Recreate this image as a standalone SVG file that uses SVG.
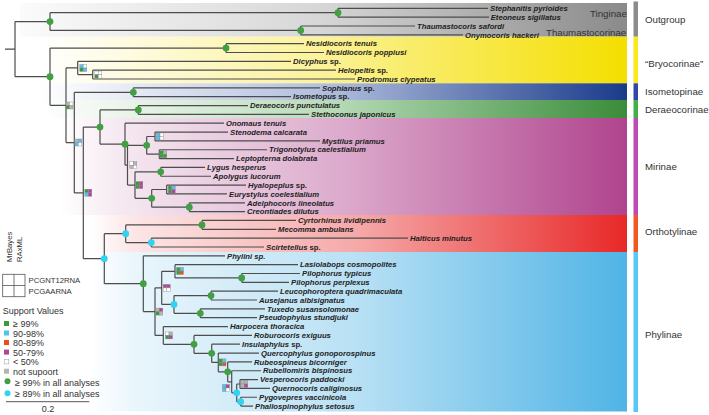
<svg xmlns="http://www.w3.org/2000/svg" width="709" height="415" viewBox="0 0 709 415">
<defs>
<linearGradient id="gOut" x1="0" x2="1" y1="0" y2="0"><stop offset="0" stop-color="#fbfbfb"/><stop offset="0.5" stop-color="#d6d6d6"/><stop offset="1" stop-color="#8a8a8a"/></linearGradient>
<linearGradient id="gBry" x1="0" x2="1" y1="0" y2="0"><stop offset="0" stop-color="#ffffff"/><stop offset="0.45" stop-color="#fcf3a0"/><stop offset="1" stop-color="#f4df00"/></linearGradient>
<linearGradient id="gIso" x1="0" x2="1" y1="0" y2="0"><stop offset="0" stop-color="#ffffff"/><stop offset="0.5" stop-color="#aebcdc"/><stop offset="1" stop-color="#1a3a8a"/></linearGradient>
<linearGradient id="gDer" x1="0" x2="1" y1="0" y2="0"><stop offset="0" stop-color="#ffffff"/><stop offset="0.5" stop-color="#b8dab8"/><stop offset="1" stop-color="#3a8c3a"/></linearGradient>
<linearGradient id="gMir" x1="0" x2="1" y1="0" y2="0"><stop offset="0" stop-color="#ffffff"/><stop offset="0.1" stop-color="#f6eaf2"/><stop offset="0.5" stop-color="#dcaacc"/><stop offset="1" stop-color="#b0448e"/></linearGradient>
<linearGradient id="gOrt" x1="0" x2="1" y1="0" y2="0"><stop offset="0" stop-color="#ffffff"/><stop offset="0.08" stop-color="#fce6e6"/><stop offset="0.5" stop-color="#f6a8a8"/><stop offset="1" stop-color="#e82828"/></linearGradient>
<linearGradient id="gPhy" x1="0" x2="1" y1="0" y2="0"><stop offset="0" stop-color="#ffffff"/><stop offset="0.08" stop-color="#eaf6fc"/><stop offset="0.5" stop-color="#b8e0f4"/><stop offset="1" stop-color="#50b4e6"/></linearGradient>
</defs>
<style>
.tip{font-family:"Liberation Sans",Arial,sans-serif;font-size:7.7px;font-weight:bold;font-style:italic;fill:#1e1e1e}
.sub{font-family:"Liberation Sans",Arial,sans-serif;font-size:9.7px;fill:#333}
.lg{font-family:"Liberation Sans",Arial,sans-serif;font-size:9px;fill:#333}
.sm{font-family:"Liberation Sans",Arial,sans-serif;font-size:7.7px;fill:#333}
.br{stroke:#4d4d4d;stroke-width:1.2;fill:none}
.gd{fill:#41a043}
.cd{fill:#33d3f0}
.sq rect{stroke:#8a8a8a;stroke-width:0.4}
.g{fill:#3a9b3c}.b{fill:#4fc3f0}.r{fill:#e8501c}.m{fill:#b0449c}.w{fill:#ffffff}.n{fill:#b4b4b4}
</style>
<rect width="709" height="415" fill="#ffffff"/>
<g id="bands">
<rect x="20" y="3" width="607" height="33.7" fill="url(#gOut)"/>
<rect x="40" y="36.7" width="587" height="46.6" fill="url(#gBry)"/>
<rect x="40" y="83.3" width="587" height="16.7" fill="url(#gIso)"/>
<rect x="40" y="100" width="587" height="18" fill="url(#gDer)"/>
<rect x="60" y="118" width="567" height="97" fill="url(#gMir)"/>
<rect x="90" y="215" width="537" height="37" fill="url(#gOrt)"/>
<rect x="90" y="252" width="537" height="159.5" fill="url(#gPhy)"/>
</g>
<g id="bars">
<rect x="633.5" y="1.5" width="4.5" height="35.2" fill="#8c8c8c"/>
<rect x="633.5" y="36.7" width="4.5" height="46.6" fill="#f9e81a"/>
<rect x="633.5" y="83.3" width="4.5" height="16.7" fill="#3346a8"/>
<rect x="633.5" y="100" width="4.5" height="18" fill="#42b04a"/>
<rect x="633.5" y="118" width="4.5" height="97" fill="#c04ab4"/>
<rect x="633.5" y="215" width="4.5" height="37" fill="#f05a22"/>
<rect x="633.5" y="252" width="4.5" height="160" fill="#55c8f5"/>
</g>
<g id="group-labels">
<text class="sub" x="590" y="16.5" fill="#444">Tinginae</text>
<text class="sub" x="546" y="35.5" font-size="9.5px" fill="#444">Thaumastocorinae</text>
<text class="sub" x="645" y="22.7">Outgroup</text>
<text class="sub" x="645" y="66.7">“Bryocorinae”</text>
<text class="sub" x="645" y="95">Isometopinae</text>
<text class="sub" x="645" y="113.4">Deraeocorinae</text>
<text class="sub" x="645" y="170">Mirinae</text>
<text class="sub" x="645" y="235">Orthotylinae</text>
<text class="sub" x="645" y="338.4">Phylinae</text>
</g>
<g id="connectors" class="br">
<path d="M5,49.1H15M15,21.56V76.7M15,21.56H50M50,12.72V30.4M50,12.72H338M338,8.3V17.14M338,8.3H488M338,17.14H489M50,30.4H300.7M300.7,25.98V34.82M300.7,25.98H415M300.7,34.82H463"/>
<path d="M15,76.7H50M50,48.08V105.3M50,48.08H226M226,43.66V52.5M226,43.66H304M226,52.5H324M50,105.3H66M66,67.97V142.6M66,67.97H77.7M77.7,61.34V74.6M77.7,61.34H291M77.7,74.6H92.7M92.7,70.18V79.02M92.7,70.18H336M92.7,79.02H355"/>
<path d="M66,142.6H74.3M74.3,92.28V192.9M74.3,92.28H133.3M133.3,87.86V96.7M133.3,87.86H320M133.3,96.7H291M74.3,192.9H83.3M83.3,127.08V258.7M83.3,127.08H100M100,109.96V144.2M100,109.96H138.3M138.3,105.54V114.38M138.3,105.54H248M138.3,114.38H309"/>
<path d="M100,144.2H125M125,123.22V165.21M125,123.22H224M125,165.21H127.5M127.5,145.32V185.1M127.5,145.32H146.7M146.7,136.48V154.16M146.7,136.48H155M155,132.06V140.9M155,132.06H228M155,140.9H320M146.7,154.16H159.3M159.3,149.74V158.58M159.3,149.74H267M159.3,158.58H234"/>
<path d="M127.5,185.1H135M135,171.84V198.36M135,171.84H160.7M160.7,167.42V176.26M160.7,167.42H205M160.7,176.26H211M135,198.36H151.7M151.7,189.52V207.2M151.7,189.52H166.7M166.7,185.1V193.94M166.7,185.1H246M166.7,193.94H227M151.7,207.2H189.3M189.3,202.78V211.62M189.3,202.78H245M189.3,211.62H245"/>
<path d="M83.3,258.7H104.3M104.3,233.72V283.7M104.3,233.72H125.7M125.7,224.88V242.56M125.7,224.88H202M202,220.46V229.3M202,220.46H296M202,229.3H276M125.7,242.56H151.3M151.3,238.14V246.98M151.3,238.14H408M151.3,246.98H264"/>
<path d="M104.3,283.7H143.3M143.3,255.82V311.6M143.3,255.82H225M143.3,311.6H155M155,287.87V335.4M155,287.87H161.7M161.7,271.29V304.44M161.7,271.29H175M175,264.66V277.92M175,264.66H298M175,277.92H241.7M241.7,273.5V282.34M241.7,273.5H300M241.7,282.34H289M161.7,304.44H174M174,295.6V313.28M174,295.6H211M211,291.18V300.02M211,291.18H278M211,300.02H257M174,313.28H200.3M200.3,308.86V317.7M200.3,308.86H265M200.3,317.7H257"/>
<path d="M155,335.4H163.3M163.3,326.54V344.3M163.3,326.54H228M163.3,344.3H194M194,335.38V353.3M194,335.38H252M194,353.3H211.7M211.7,344.22V362.45M211.7,344.22H240M211.7,362.45H218.3M218.3,353.06V371.85M218.3,353.06H259M218.3,371.85H227.7M227.7,361.9V381.8M227.7,361.9H252M227.7,381.8H231.7M231.7,370.74V392.8M231.7,370.74H261M231.7,392.8H236.7M236.7,384V401.68M236.7,384H240M240,379.58V388.42M240,379.58H258M240,388.42H270M236.7,401.68H240.7M240.7,397.26V406.1M240.7,397.26H257M240.7,406.1H253"/>
</g>
<g id="node-dots">
<circle class="gd" cx="50" cy="21.56" r="3.4"/>
<circle class="gd" cx="338" cy="12.72" r="3.4"/>
<circle class="gd" cx="300.7" cy="30.4" r="3.4"/>
<circle class="gd" cx="50" cy="76.7" r="3.4"/>
<circle class="gd" cx="226" cy="48.08" r="3.4"/>
<circle class="gd" cx="133.3" cy="92.28" r="3.4"/>
<circle class="gd" cx="100" cy="127.08" r="3.4"/>
<circle class="gd" cx="138.3" cy="109.96" r="3.4"/>
<circle class="gd" cx="125" cy="144.2" r="3.4"/>
<circle class="gd" cx="146.7" cy="145.32" r="3.4"/>
<circle class="gd" cx="160.7" cy="171.84" r="3.4"/>
<circle class="gd" cx="151.7" cy="198.36" r="3.4"/>
<circle class="gd" cx="189.3" cy="207.2" r="3.4"/>
<circle class="gd" cx="202" cy="224.88" r="3.4"/>
<circle class="gd" cx="143.3" cy="283.7" r="3.4"/>
<circle class="gd" cx="241.7" cy="277.92" r="3.4"/>
<circle class="gd" cx="211" cy="295.6" r="3.4"/>
<circle class="gd" cx="200.3" cy="313.28" r="3.4"/>
<circle class="gd" cx="194" cy="344.3" r="3.4"/>
<circle class="gd" cx="211.7" cy="353.3" r="3.4"/>
<circle class="gd" cx="227.7" cy="371.85" r="3.4"/>
<circle class="cd" cx="125.7" cy="233.72" r="3.4"/>
<circle class="cd" cx="151.3" cy="242.56" r="3.4"/>
<circle class="cd" cx="104.3" cy="258.7" r="3.4"/>
<circle class="cd" cx="174" cy="304.44" r="3.4"/>
<circle class="cd" cx="236.7" cy="392.8" r="3.4"/>
<circle class="cd" cx="240.7" cy="401.68" r="3.4"/>
</g>
<g id="support-squares" class="sq">
<g id="sq-C"><rect class="b" x="79.8" y="64.5" width="3.5" height="3.5"/><rect class="w" x="83.3" y="64.5" width="3.5" height="3.5"/><rect class="g" x="79.8" y="68" width="3.5" height="3.5"/><rect class="b" x="83.3" y="68" width="3.5" height="3.5"/></g>
<g id="sq-D"><rect class="w" x="94.8" y="71.1" width="3.5" height="3.5"/><rect class="w" x="98.3" y="71.1" width="3.5" height="3.5"/><rect class="g" x="94.8" y="74.6" width="3.5" height="3.5"/><rect class="w" x="98.3" y="74.6" width="3.5" height="3.5"/></g>
<g id="sq-B"><rect class="n" x="66" y="102" width="3.5" height="3.5"/><rect class="w" x="69.5" y="102" width="3.5" height="3.5"/><rect class="g" x="66" y="105.5" width="3.5" height="3.5"/><rect class="n" x="69.5" y="105.5" width="3.5" height="3.5"/></g>
<g id="sq-E"><rect class="n" x="74.8" y="139" width="3.5" height="3.5"/><rect class="b" x="78.3" y="139" width="3.5" height="3.5"/><rect class="b" x="74.8" y="142.5" width="3.5" height="3.5"/><rect class="w" x="78.3" y="142.5" width="3.5" height="3.5"/></g>
<g id="sq-F"><rect class="g" x="84.8" y="189.2" width="3.5" height="3.5"/><rect class="m" x="88.3" y="189.2" width="3.5" height="3.5"/><rect class="b" x="84.8" y="192.7" width="3.5" height="3.5"/><rect class="m" x="88.3" y="192.7" width="3.5" height="3.5"/></g>
<g id="sq-J"><rect class="w" x="129.8" y="161.7" width="3.5" height="3.5"/><rect class="n" x="133.3" y="161.7" width="3.5" height="3.5"/><rect class="n" x="129.8" y="165.2" width="3.5" height="3.5"/><rect class="w" x="133.3" y="165.2" width="3.5" height="3.5"/></g>
<g id="sq-M"><rect class="b" x="156.5" y="133" width="3.5" height="3.5"/><rect class="w" x="160" y="133" width="3.5" height="3.5"/><rect class="b" x="156.5" y="136.5" width="3.5" height="3.5"/><rect class="w" x="160" y="136.5" width="3.5" height="3.5"/></g>
<g id="sq-N"><rect class="g" x="159.8" y="150.7" width="3.5" height="3.5"/><rect class="n" x="163.3" y="150.7" width="3.5" height="3.5"/><rect class="g" x="159.8" y="154.2" width="3.5" height="3.5"/><rect class="g" x="163.3" y="154.2" width="3.5" height="3.5"/></g>
<g id="sq-L"><rect class="g" x="135.8" y="181.6" width="3.5" height="3.5"/><rect class="m" x="139.3" y="181.6" width="3.5" height="3.5"/><rect class="g" x="135.8" y="185.1" width="3.5" height="3.5"/><rect class="m" x="139.3" y="185.1" width="3.5" height="3.5"/></g>
<g id="sq-Q"><rect class="g" x="168.2" y="186" width="3.5" height="3.5"/><rect class="b" x="171.7" y="186" width="3.5" height="3.5"/><rect class="g" x="168.2" y="189.5" width="3.5" height="3.5"/><rect class="m" x="171.7" y="189.5" width="3.5" height="3.5"/></g>
<g id="sq-X"><rect class="g" x="176.5" y="267.5" width="3.5" height="3.5"/><rect class="b" x="180" y="267.5" width="3.5" height="3.5"/><rect class="g" x="176.5" y="271" width="3.5" height="3.5"/><rect class="r" x="180" y="271" width="3.5" height="3.5"/></g>
<g id="sq-V"><rect class="m" x="163.2" y="284.4" width="3.5" height="3.5"/><rect class="m" x="166.7" y="284.4" width="3.5" height="3.5"/><rect class="w" x="163.2" y="287.9" width="3.5" height="3.5"/><rect class="w" x="166.7" y="287.9" width="3.5" height="3.5"/></g>
<g id="sq-U"><rect class="n" x="155.8" y="308.1" width="3.5" height="3.5"/><rect class="m" x="159.3" y="308.1" width="3.5" height="3.5"/><rect class="g" x="155.8" y="311.6" width="3.5" height="3.5"/><rect class="n" x="159.3" y="311.6" width="3.5" height="3.5"/></g>
<g id="sq-W"><rect class="w" x="165.5" y="331.9" width="3.5" height="3.5"/><rect class="n" x="169" y="331.9" width="3.5" height="3.5"/><rect class="g" x="165.5" y="335.4" width="3.5" height="3.5"/><rect class="m" x="169" y="335.4" width="3.5" height="3.5"/></g>
<g id="sq-BB"><rect class="g" x="219" y="358.9" width="3.5" height="3.5"/><rect class="b" x="222.5" y="358.9" width="3.5" height="3.5"/><rect class="g" x="219" y="362.4" width="3.5" height="3.5"/><rect class="r" x="222.5" y="362.4" width="3.5" height="3.5"/></g>
<g id="sq-FF"><rect class="n" x="240.8" y="380.5" width="3.5" height="3.5"/><rect class="n" x="244.3" y="380.5" width="3.5" height="3.5"/><rect class="n" x="240.8" y="384" width="3.5" height="3.5"/><rect class="m" x="244.3" y="384" width="3.5" height="3.5"/></g>
<g id="sq-DD"><rect class="b" x="222.5" y="384.5" width="3.5" height="3.5"/><rect class="m" x="226" y="384.5" width="3.5" height="3.5"/><rect class="b" x="222.5" y="388" width="3.5" height="3.5"/><rect class="w" x="226" y="388" width="3.5" height="3.5"/></g>
</g>
<g id="tips">
<g id="t1"><text class="tip" x="490" y="11">Stephanitis pyrioides</text></g>
<g id="t2"><text class="tip" x="490.7" y="19.8">Eteoneus sigillatus</text></g>
<g id="t3"><text class="tip" x="417" y="28.7">Thaumastocoris safordi</text></g>
<g id="t4"><text class="tip" x="465" y="37.5">Onymocoris hackeri</text></g>
<g id="t5"><text class="tip" x="306" y="46.4">Nesidiocoris tenuis</text></g>
<g id="t6"><text class="tip" x="326" y="55.2">Nesidiocoris poppiusi</text></g>
<g id="t7"><text class="tip" x="293" y="64"><tspan>Dicyphus</tspan><tspan font-style="normal"> sp.</tspan></text></g>
<g id="t8"><text class="tip" x="338" y="72.9"><tspan>Helopeltis</tspan><tspan font-style="normal"> sp.</tspan></text></g>
<g id="t9"><text class="tip" x="357" y="81.7">Prodromus clypeatus</text></g>
<g id="t10"><text class="tip" x="322" y="90.6"><tspan>Sophianus</tspan><tspan font-style="normal"> sp.</tspan></text></g>
<g id="t11"><text class="tip" x="293" y="99.4"><tspan>Isometopus</tspan><tspan font-style="normal"> sp.</tspan></text></g>
<g id="t12"><text class="tip" x="250" y="108.2">Deraeocoris punctulatus</text></g>
<g id="t13"><text class="tip" x="311" y="117.1">Stethoconus japonicus</text></g>
<g id="t14"><text class="tip" x="226" y="125.9">Onomaus tenuis</text></g>
<g id="t15"><text class="tip" x="230" y="134.8">Stenodema calcarata</text></g>
<g id="t16"><text class="tip" x="322" y="143.6">Mystilus priamus</text></g>
<g id="t17"><text class="tip" x="269" y="152.4">Trigonotylus caelestialium</text></g>
<g id="t18"><text class="tip" x="236" y="161.3">Leptopterna dolabrata</text></g>
<g id="t19"><text class="tip" x="207" y="170.1">Lygus hesperus</text></g>
<g id="t20"><text class="tip" x="213" y="179">Apolygus lucorum</text></g>
<g id="t21"><text class="tip" x="248" y="187.8"><tspan>Hyalopeplus</tspan><tspan font-style="normal"> sp.</tspan></text></g>
<g id="t22"><text class="tip" x="229" y="196.6">Eurystylus coelestialium</text></g>
<g id="t23"><text class="tip" x="247" y="205.5">Adelphocoris lineolatus</text></g>
<g id="t24"><text class="tip" x="247" y="214.3">Creontiades dilutus</text></g>
<g id="t25"><text class="tip" x="298" y="223.2">Cyrtorhinus lividipennis</text></g>
<g id="t26"><text class="tip" x="278" y="232">Mecomma ambulans</text></g>
<g id="t27"><text class="tip" x="410" y="240.8">Halticus minutus</text></g>
<g id="t28"><text class="tip" x="266" y="249.7"><tspan>Scirtetellus</tspan><tspan font-style="normal"> sp.</tspan></text></g>
<g id="t29"><text class="tip" x="227" y="258.5" font-style="normal">Phylini sp.</text></g>
<g id="t30"><text class="tip" x="300" y="267.4">Lasiolabops cosmopolites</text></g>
<g id="t31"><text class="tip" x="302" y="276.2">Pilophorus typicus</text></g>
<g id="t32"><text class="tip" x="291" y="285">Pilophorus perplexus</text></g>
<g id="t33"><text class="tip" x="280" y="293.9">Leucophoroptera quadrimaculata</text></g>
<g id="t34"><text class="tip" x="259" y="302.7">Ausejanus albisignatus</text></g>
<g id="t35"><text class="tip" x="267" y="311.6">Tuxedo susansolomonae</text></g>
<g id="t36"><text class="tip" x="259" y="320.4">Pseudophylus stundjuki</text></g>
<g id="t37"><text class="tip" x="230" y="329.2">Harpocera thoracica</text></g>
<g id="t38"><text class="tip" x="254" y="338.1">Roburocoris exiguus</text></g>
<g id="t39"><text class="tip" x="242" y="346.9"><tspan>Insulaphylus</tspan><tspan font-style="normal"> sp.</tspan></text></g>
<g id="t40"><text class="tip" x="261" y="355.8">Quercophylus gonoporospinus</text></g>
<g id="t41"><text class="tip" x="254" y="364.6">Rubeospineus bicorniger</text></g>
<g id="t42"><text class="tip" x="263" y="373.4">Rubellomiris bispinosus</text></g>
<g id="t43"><text class="tip" x="260" y="382.3">Vesperocoris paddocki</text></g>
<g id="t44"><text class="tip" x="272" y="391.1">Quernocoris caliginosus</text></g>
<g id="t45"><text class="tip" x="259" y="400">Pygovepres vaccinicola</text></g>
<g id="t46"><text class="tip" x="255" y="408.8">Phallospinophylus setosus</text></g>
</g>
<g id="legend">
<text class="sm" font-size="6px" transform="translate(11.5,262) rotate(-90)">MrBayes</text>
<text class="sm" font-size="6px" transform="translate(21.5,262) rotate(-90)">RAxML</text>
<rect x="2.7" y="274.3" width="22.3" height="22.4" fill="none" stroke="#555" stroke-width="0.8"/>
<path d="M14,274.3V296.7M2.7,285.5H25" stroke="#555" stroke-width="0.8"/>
<text class="sm" x="28.5" y="282.8">PCGNT12RNA</text>
<text class="sm" x="28.5" y="294.4">PCGAARNA</text>
<text class="lg" x="2.7" y="314.2" font-size="9.3px">Support Values</text>
<rect x="4" y="321" width="5" height="5" class="g"/>
<text class="lg" x="13" y="327.2">≥ 99%</text>
<rect x="4" y="330.5" width="5" height="5" class="b"/>
<text class="lg" x="13" y="336.5">90-98%</text>
<rect x="4" y="340" width="5" height="5" class="r"/>
<text class="lg" x="13" y="345.9">80-89%</text>
<rect x="4" y="349.6" width="5" height="5" class="m"/>
<text class="lg" x="13" y="355.5">50-79%</text>
<rect x="4.2" y="359.3" width="4.6" height="4.6" fill="#fff" stroke="#999" stroke-width="0.5"/>
<text class="lg" x="13" y="365.4">&lt; 50%</text>
<rect x="4" y="368.7" width="5" height="5" class="n"/>
<text class="lg" x="13" y="374.8">not supoort</text>
<circle cx="7.5" cy="381.3" r="3" class="gd"/>
<text class="lg" x="15" y="385.9">≥ 99% in all analyses</text>
<circle cx="7.5" cy="393.3" r="3" class="cd"/>
<text class="lg" x="15" y="397.2">≥ 89% in all analyses</text>
<path d="M6,401.7H89.3" stroke="#444" stroke-width="0.9"/>
<text class="lg" x="48" y="411.6" text-anchor="middle">0.2</text>
</g>
</svg>
